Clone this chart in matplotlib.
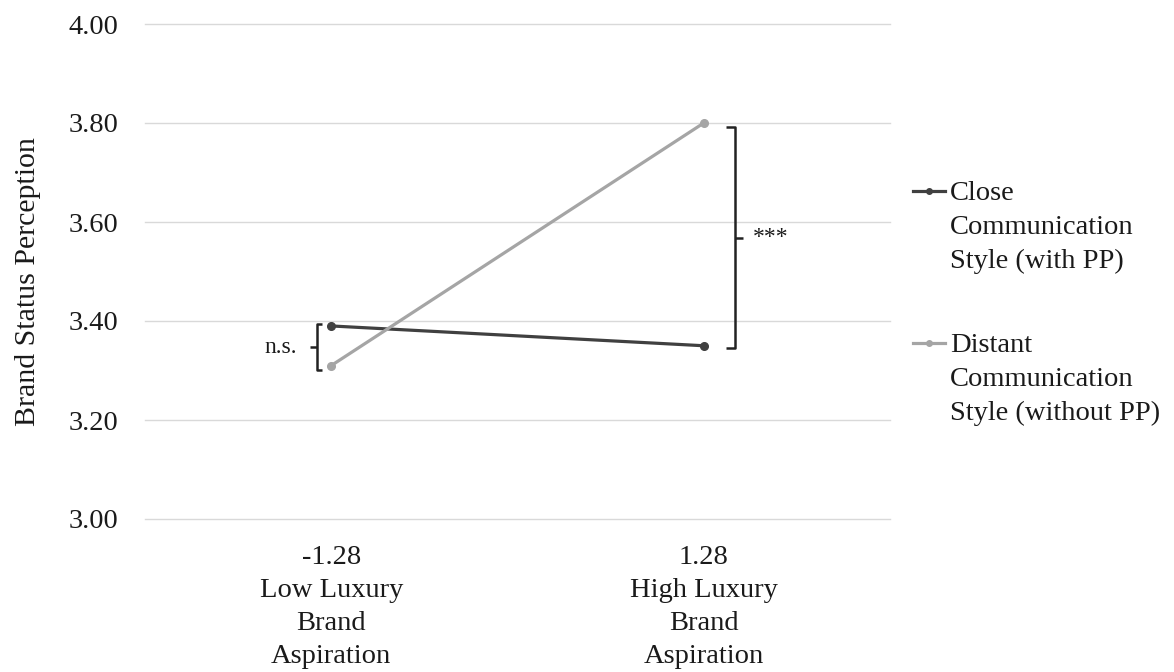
import matplotlib
matplotlib.use('Agg')
import matplotlib.pyplot as plt
from matplotlib.lines import Line2D

# category labels and cell means
categories = ["-1.28\nLow Luxury\nBrand\nAspiration",
              "1.28\nHigh Luxury\nBrand\nAspiration"]
close_values = [3.39, 3.35]
distant_values = [3.31, 3.80]
series_names = ["Close\nCommunication\nStyle (with PP)",
                "Distant\nCommunication\nStyle (without PP)"]
y_ticks = [3.00, 3.20, 3.40, 3.60, 3.80, 4.00]

plt.rcParams['font.family'] = ['Liberation Serif', 'DejaVu Serif']
TEXT = '#1a1a1a'
DARK = '#404040'
LIGHT = '#a5a5a5'
FS = 20.5

fig = plt.figure(figsize=(11.74, 6.72), dpi=100)
ax = fig.add_axes([145 / 1174, 1 - 519 / 672, 745 / 1174, 495 / 672])

x = list(range(len(categories)))
ax.plot(x, close_values, color=DARK, lw=2.3, marker='o', ms=5.5, zorder=3)
ax.plot(x, distant_values, color=LIGHT, lw=2.3, marker='o', ms=5.5, zorder=3)

ax.set_xlim(-0.5, 1.5)
ax.set_ylim(3.0, 4.0)
ax.set_yticks(y_ticks)
ax.set_yticklabels([f"{v:.2f}" for v in y_ticks])
ax.set_xticks(x)
ax.set_xticklabels(categories)
for lbl in ax.get_xticklabels():
    lbl.set_linespacing(1.42)
ax.tick_params(axis='both', length=0, labelsize=FS, colors=TEXT)
ax.tick_params(axis='y', pad=19)
ax.tick_params(axis='x', pad=19)
ax.grid(axis='y', color='#d9d9d9', lw=1)
for gl in ax.get_ygridlines():
    gl.set_clip_on(False)
ax.set_axisbelow(True)
for s in ax.spines.values():
    s.set_visible(False)

ax.set_ylabel("Brand Status Perception", fontsize=21.5, color=TEXT, labelpad=20)
ax.yaxis.label.set_y(0.479)

# significance brackets
bk = dict(color='#222222', lw=1.8, solid_capstyle='butt', clip_on=False)
lo_top, lo_bot = close_values[0] + 0.003, distant_values[0] - 0.01
xv = -0.0375
ax.plot([xv + 0.012, xv, xv, xv + 0.012], [lo_top, lo_top, lo_bot, lo_bot], **bk)
mid = (lo_top + lo_bot) / 2
ax.plot([xv, xv - 0.02], [mid, mid], **bk)
ax.text(-0.137, mid, "n.s.", fontsize=17, color=TEXT, ha='center', va='center')

hi_top, hi_bot = distant_values[1] - 0.008, close_values[1] - 0.005
xv = 1.083
ax.plot([xv - 0.024, xv, xv, xv - 0.024], [hi_top, hi_top, hi_bot, hi_bot], **bk)
mid = (hi_top + hi_bot) / 2
ax.plot([xv, xv + 0.022], [mid, mid], **bk)
ax.text(1.132, mid, "***", fontsize=17, color=TEXT, ha='left', va='center')

# legend drawn in figure pixels so the handle sits on the first label line
W, H = 1174, 672
for name, col, ytop in [(series_names[0], DARK, 191), (series_names[1], LIGHT, 343)]:
    fy = 1 - ytop / H
    fig.add_artist(Line2D([913 / W, 945 / W], [fy, fy], color=col, lw=2.3,
                          transform=fig.transFigure))
    fig.add_artist(Line2D([929 / W], [fy], color=col, marker='o', ms=4,
                          transform=fig.transFigure))
    for i, line in enumerate(name.split("\n")):
        fig.text(950 / W, 1 - (ytop + i * 33.7) / H, line, fontsize=FS,
                 color=TEXT, ha='left', va='center_baseline')

fig.savefig("out.png", dpi=100)
plt.close(fig)
